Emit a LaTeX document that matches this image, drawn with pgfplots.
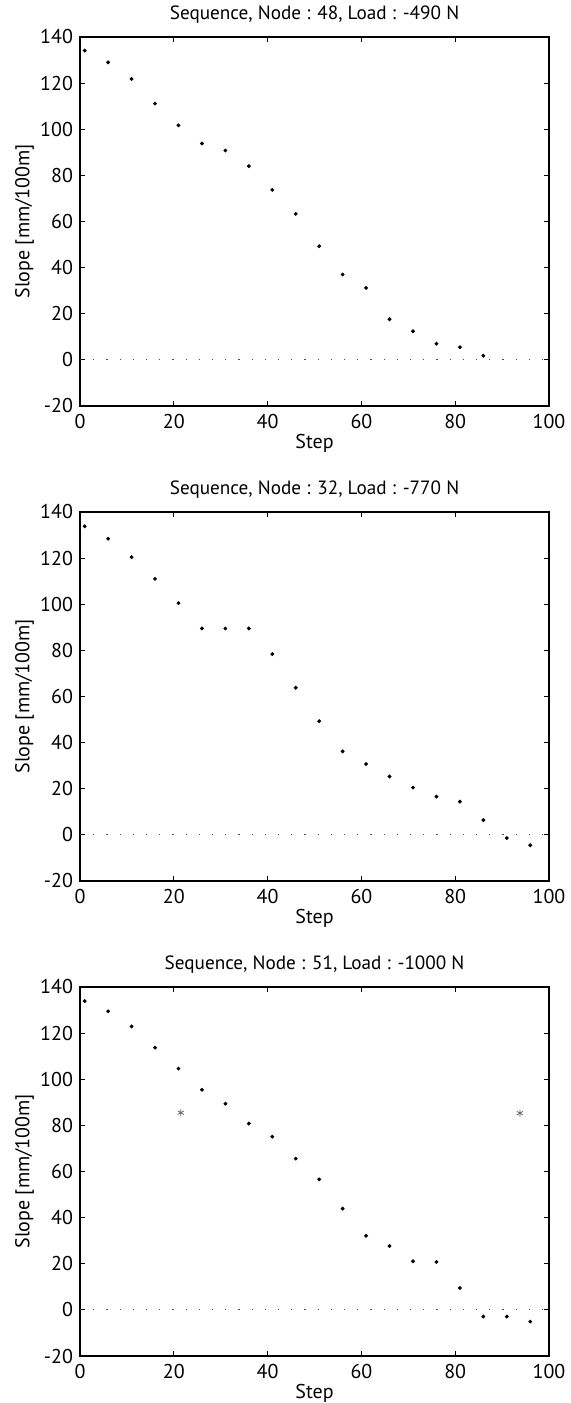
\documentclass[border=0pt]{standalone}
\usepackage{fontspec}
\setmainfont{PT Sans}
\usepackage{pgfplots}
\pgfplotsset{compat=1.18}
\usepackage{pgfplotstable}

\pgfplotstableread{
x y
1 134.1
6 129.0
11 121.8
16 111.1
21 101.7
26 93.8
31 90.8
36 84.0
41 73.7
46 63.3
51 49.3
56 37.0
61 31.2
66 17.6
71 12.4
76 7.0
81 5.5
86 1.8
}\dataA

\pgfplotstableread{
x y
1 133.8
6 128.4
11 120.4
16 111.0
21 100.5
26 89.5
31 89.5
36 89.5
41 78.4
46 63.8
51 49.3
56 36.2
61 30.7
66 25.3
71 20.5
76 16.6
81 14.4
86 6.4
91 -1.4
96 -4.5
}\dataB

\pgfplotstableread{
x y
1 133.9
6 129.5
11 122.9
16 113.7
21 104.6
26 95.4
31 89.4
36 80.8
41 75.1
46 65.6
51 56.6
56 43.9
61 32.1
66 27.7
71 21.1
76 20.8
81 9.5
86 -2.9
91 -2.9
96 -5.1
}\dataC

\pgfplotstableread{
x y
21.5 85.5
93.8 85.3
}\dataCout

\pgfplotsset{
  myax/.style={
    scale only axis,
    width=234.5pt, height=184.5pt,
    anchor=south west,
    xmin=0, xmax=100, ymin=-20, ymax=140,
    xtick={0,20,...,100}, ytick={-20,0,...,140},
    tick align=inside,
    major tick length=2.5pt,
    xtick pos=both, ytick pos=both,
    axis line style={line width=0.6pt},
    tick style={line width=0.5pt, black},
    /pgf/number format/assume math mode=true,
    font=\fontsize{10}{12}\selectfont,
    tick label style={font=\fontsize{10}{12}\selectfont},
    xticklabel style={yshift=-0.5pt},
    xlabel={Step}, ylabel={Slope [mm/100m]},
    xlabel style={at={(axis description cs:0.5,-0.1)}, anchor=center},
    ylabel style={at={(axis description cs:-0.118,0.5)}, anchor=center},
    title style={at={(axis description cs:0.5,1)}, anchor=center, yshift=5pt, font=\fontsize{9.6}{11}\selectfont},
    clip=false,
  },
  dots/.style={only marks, mark=*, mark size=0.75pt, black},
  zeroline/.style={black!70, line width=0.5pt, dash pattern=on 0.6pt off 6pt},
}

\begin{document}
\begin{tikzpicture}
\useasboundingbox (0,0) rectangle (285pt,701.5pt);

\begin{axis}[myax, at={(40pt,498.5pt)}, title={Sequence, Node : 48, Load : -490 N}]
\addplot[zeroline] coordinates {(0,0) (100,0)};
\addplot[dots] table[x=x,y=y] {\dataA};
\end{axis}

\begin{axis}[myax, at={(40pt,261pt)}, title={Sequence, Node : 32, Load : -770 N}]
\addplot[zeroline] coordinates {(0,0) (100,0)};
\addplot[dots] table[x=x,y=y] {\dataB};
\end{axis}

\begin{axis}[myax, at={(40pt,23.5pt)}, title={Sequence, Node : 51, Load : -1000 N}]
\addplot[zeroline] coordinates {(0,0) (100,0)};
\addplot[dots] table[x=x,y=y] {\dataC};
\addplot[only marks, mark=asterisk, mark size=1.8pt, black!60, mark options={line width=0.4pt}] table[x=x,y=y] {\dataCout};
\end{axis}
\end{tikzpicture}
\end{document}
